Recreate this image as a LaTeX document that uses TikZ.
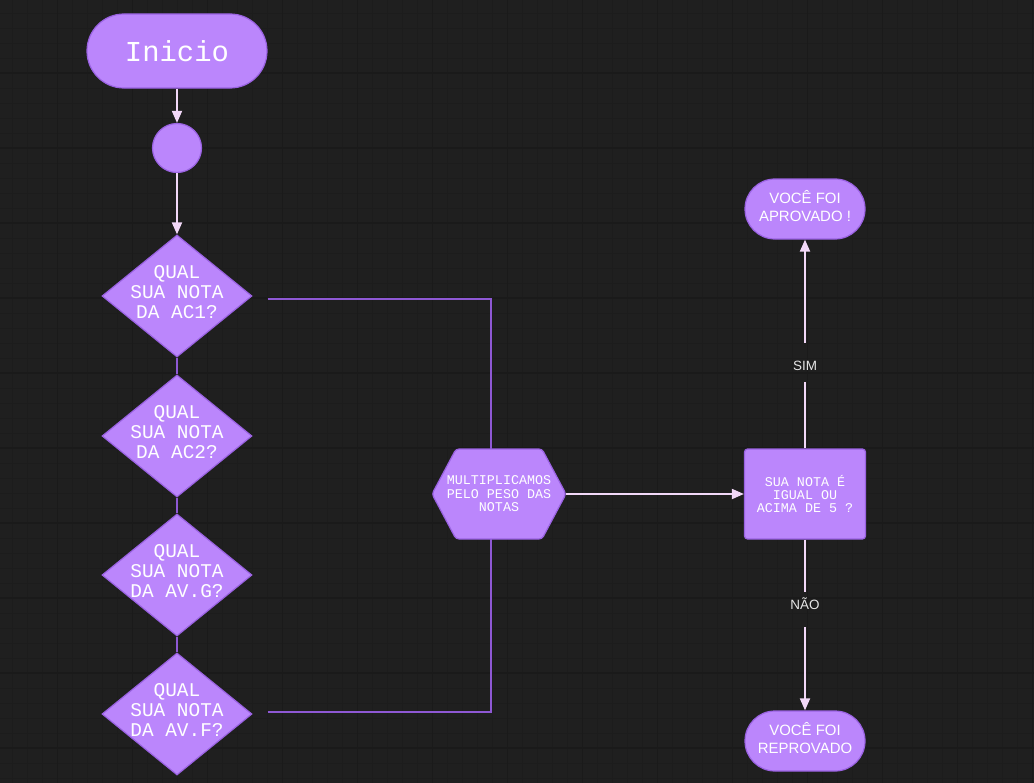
\documentclass[tikz,border=0pt]{standalone}
\usepackage{fontspec}
\setmainfont{Liberation Sans}
\newfontfamily\monofont{Liberation Mono}
\usetikzlibrary{shapes.geometric,arrows.meta,calc}

\definecolor{bgcol}{HTML}{1F1F1F}
\definecolor{gridminor}{HTML}{1C1C1C}
\definecolor{gridmajor}{HTML}{1A1A1A}
\definecolor{nodefill}{HTML}{BB86FC}
\definecolor{nodeedge}{HTML}{9A62E2}
\definecolor{linkcol}{HTML}{8E58D4}
\definecolor{arrowcol}{HTML}{F2D8F8}
\definecolor{labelcol}{HTML}{E6E6E6}

\tikzset{
  shapebox/.style={fill=nodefill, draw=nodeedge, line width=1.2bp},
  terminal/.style={shapebox, rectangle, inner sep=0pt, text=white, align=center},
  decision/.style={shapebox, diamond, minimum width=150bp, minimum height=122bp, inner sep=0pt},
  dectext/.style={text=white, align=center, inner sep=0pt,
    font=\monofont\fontsize{19.5}{20}\selectfont},
  smalltext/.style={text=white, align=center, inner sep=0pt,
    font=\monofont\fontsize{13.4}{13.5}\selectfont},
  outcome/.style={terminal, minimum width=120bp, minimum height=60bp, rounded corners=29.9bp},
  sanstext/.style={text=white, align=center, inner sep=0pt, font=\fontsize{15}{18}\selectfont},
  link/.style={draw=linkcol, line width=1.8bp},
  plainflow/.style={draw=arrowcol, line width=1.8bp},
  flow/.style={plainflow, -{Triangle[length=12bp,width=10bp]}, color=arrowcol},
  edgelabel/.style={text=labelcol, inner sep=0pt, font=\fontsize{13.5}{14}\selectfont},
}

\begin{document}
\begin{tikzpicture}[x=1bp, y=-1bp]
  % canvas and faint grid
  \fill[bgcol] (0,0) rectangle (1034,783);
  \useasboundingbox (0,0) rectangle (1034,783);
  \foreach \i in {0,...,68} {
    \draw[gridminor, line width=1bp] ({12.3+15*\i},0) -- ({12.3+15*\i},783);
  }
  \foreach \i in {0,...,52} {
    \draw[gridminor, line width=1bp] (0,{13.3+15*\i}) -- (1034,{13.3+15*\i});
  }
  \foreach \i in {0,...,13} {
    \draw[gridmajor, line width=1.2bp] ({57.3+75*\i},0) -- ({57.3+75*\i},783);
  }
  \foreach \i in {0,...,10} {
    \draw[gridmajor, line width=1.2bp] (0,{73+75*\i}) -- (1034,{73+75*\i});
  }

  % start
  \node[terminal, minimum width=180bp, minimum height=74bp, rounded corners=36.9bp,
        font=\monofont\fontsize{29}{30}\selectfont] (ini) at (177,51) {Inicio};
  \node[shapebox, circle, minimum size=49bp, inner sep=0pt] (dot) at (177,148) {};

  % questions
  \node[decision] (d1) at (177,296) {};
  \node[decision] (d2) at (177,436) {};
  \node[decision] (d3) at (177,575) {};
  \node[decision] (d4) at (177,714) {};
  \node[dectext] (t1) at ([yshift=4bp]d1.center) {QUAL\\SUA NOTA\\DA AC1?};
  \node[dectext] (t2) at ([yshift=4bp]d2.center) {QUAL\\SUA NOTA\\DA AC2?};
  \node[dectext] (t3) at ([yshift=4bp]d3.center) {QUAL\\SUA NOTA\\DA AV.G?};
  \node[dectext] (t4) at ([yshift=4bp]d4.center) {QUAL\\SUA NOTA\\DA AV.F?};

  % weighting step (hexagon)
  \coordinate (hc) at (499,494);
  \draw[shapebox, rounded corners=3bp]
    ($(hc)+(-67,0)$) -- ($(hc)+(-43,-45)$) -- ($(hc)+(43,-45)$) --
    ($(hc)+(67,0)$) -- ($(hc)+(43,45)$) -- ($(hc)+(-43,45)$) -- cycle;
  \node[smalltext, minimum width=134bp, minimum height=90bp] (hex) at (hc)
    {MULTIPLICAMOS\\PELO PESO DAS\\NOTAS};

  % final check
  \node[shapebox, rectangle, rounded corners=3bp, minimum width=121bp, minimum height=90bp,
        smalltext] (q) at (805,494) {SUA NOTA É\\IGUAL OU\\ACIMA DE 5 ?};

  % outcomes
  \node[outcome] (ap) at (805,209) {};
  \node[outcome] (rp) at (805,741) {};
  \node[sanstext] (apt) at ([yshift=2.5bp]ap.center) {VOCÊ FOI\\APROVADO !};
  \node[sanstext] (rpt) at ([yshift=3bp]rp.center) {VOCÊ FOI\\REPROVADO};

  % branch labels
  \node[edgelabel] (lsim) at (805,366) {SIM};
  \node[edgelabel] (lnao) at (805,604) {NÃO};

  % connectors
  \draw[flow] (ini) -- (dot);
  \draw[flow] (dot) -- (d1);
  \draw[link] (d1) -- (d2);
  \draw[link] (d2) -- (d3);
  \draw[link] (d3) -- (d4);
  \draw[link] ([xshift=15bp,yshift=-3bp]d1.east) -| ([xshift=-8bp]hex.north);
  \draw[link] ([xshift=15bp,yshift=2bp]d4.east) -| ([xshift=-8bp]hex.south);
  \draw[flow] (hex) -- (q);
  \draw[plainflow] (q.north) -- ([yshift=-16bp]lsim.center);
  \draw[flow] ([yshift=23bp]lsim.center) -- (ap);
  \draw[plainflow] (q.south) -- ([yshift=12bp]lnao.center);
  \draw[flow] ([yshift=-23bp]lnao.center) -- (rp);
\end{tikzpicture}
\end{document}
